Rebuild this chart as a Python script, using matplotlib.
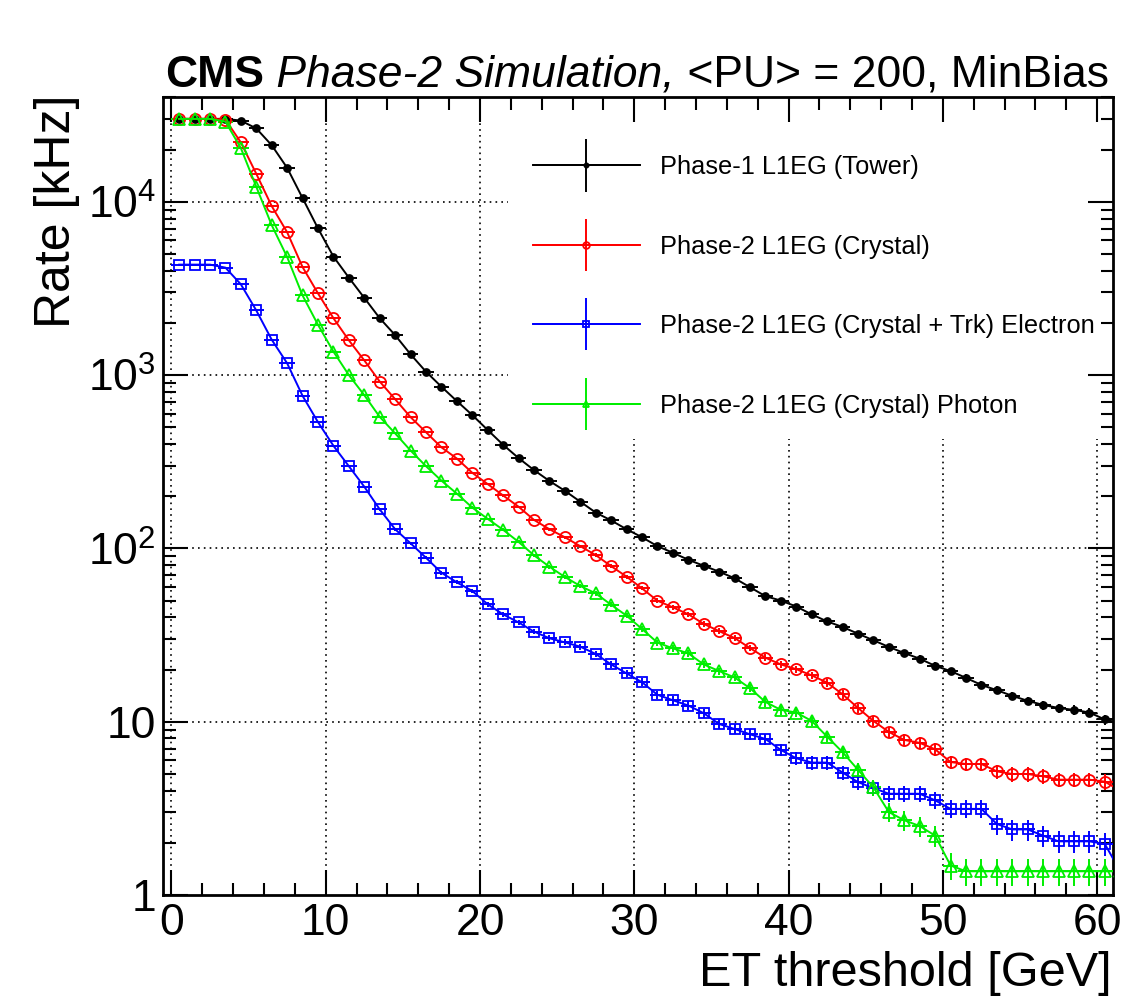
import numpy as np
import matplotlib
matplotlib.use("Agg")
import matplotlib.pyplot as plt
from matplotlib.ticker import MultipleLocator, LogLocator, NullFormatter, FuncFormatter
from matplotlib.legend_handler import HandlerErrorbar
from matplotlib.container import ErrorbarContainer
from matplotlib.patches import Rectangle

plt.rcParams["font.family"] = ["Liberation Sans", "DejaVu Sans"]
plt.rcParams["mathtext.fontset"] = "custom"
plt.rcParams["mathtext.rm"] = "Liberation Sans"
plt.rcParams["mathtext.it"] = "Liberation Sans:italic"

# bin centres in GeV (last bin sits just past the right edge of the frame)
et = np.arange(62) + 0.5

tower = [30100, 30100, 30100, 30100, 29400, 26500, 21200, 15700, 10500, 7020,
         4830, 3650, 2790, 2130, 1700, 1318, 1046, 857, 708, 588,
         482, 396, 332, 283, 245, 215, 186, 161, 145, 129,
         116, 103, 94.4, 86, 79.4, 73.4, 67.3, 59.7, 53, 50,
         46.2, 41.6, 37.9, 35.2, 32.2, 29.5, 27, 24.9, 23.1, 21,
         19.6, 17.9, 16.3, 15.2, 14.1, 13.2, 12.5, 12.0, 11.7, 11.3,
         10.3, 9.8]
crystal = [30100, 30100, 30100, 29800, 22000, 14500, 9440, 6670, 4200, 2960,
           2130, 1588, 1216, 918, 726, 572, 468, 383, 330, 273,
           235, 202, 174, 146, 129, 116, 103, 91.5, 79, 68.7,
           58.8, 49.9, 45.7, 41.7, 36.7, 33.3, 30.4, 26.6, 23.4, 21.4,
           20.1, 18.5, 16.8, 14.4, 12.0, 10.1, 8.73, 7.85, 7.55, 6.93,
           5.85, 5.7, 5.7, 5.17, 4.99, 4.99, 4.84, 4.63, 4.63, 4.63,
           4.51, 4.0]
electron = [4340, 4340, 4340, 4170, 3340, 2360, 1600, 1170, 759, 535,
            391, 298, 227, 168, 129, 107, 88.3, 72.4, 63.7, 56.8,
            47.6, 41.6, 37.4, 33.1, 30.3, 28.7, 27.1, 24.6, 21.4, 19.0,
            16.9, 14.3, 13.3, 12.4, 11.2, 9.7, 9.08, 8.46, 7.95, 6.87,
            6.15, 5.81, 5.81, 5.09, 4.48, 4.14, 3.84, 3.84, 3.84, 3.52,
            3.14, 3.14, 3.14, 2.57, 2.39, 2.39, 2.2, 2.04, 2.04, 2.04,
            1.97, 1.37]
photon = [30100, 30100, 30100, 29000, 20400, 12200, 7330, 4800, 2880, 1950,
          1366, 1000, 766, 574, 461, 367, 298, 246, 207, 172,
          148, 128, 109, 91.2, 78.4, 68.4, 60.7, 55, 47.3, 40.9,
          34.3, 28.6, 26.5, 24.8, 21.4, 19.6, 18, 15.6, 13, 11.7,
          11.3, 10.1, 8.2, 6.67, 5.28, 4.18, 3.01, 2.70, 2.50, 2.20,
          1.48, 1.37, 1.37, 1.37, 1.37, 1.37, 1.37, 1.37, 1.37, 1.37,
          1.37, 1.37]

labels = ["Phase-1 L1EG (Tower)",
          "Phase-2 L1EG (Crystal)",
          "Phase-2 L1EG (Crystal + Trk) Electron",
          "Phase-2 L1EG (Crystal) Photon"]
colors = ["black", "#ff0000", "#0000ff", "#00ee00"]
markers = ["o", "o", "s", "^"]
filled = [True, False, False, False]
msizes = [5, 8, 7, 8]

# rate carried by a single event, used for the Poisson error bars
KHZ_PER_EVENT = 0.045

fig = plt.figure(figsize=(11.46, 9.97), dpi=100)
ax = fig.add_axes([0.1422, 0.1023, 0.8286, 0.8007])

# dotted grid drawn by hand so the legend box can hide part of it
for gx in range(0, 61, 10):
    ax.axvline(gx, color="black", lw=1.2, ls=(0, (1, 2.5)), zorder=1)
for gy in [10, 100, 1000, 10000]:
    ax.axhline(gy, color="black", lw=1.2, ls=(0, (1, 2.5)), zorder=1)
ax.add_patch(Rectangle((0.363, 0.571), 0.637, 0.429, transform=ax.transAxes,
                       facecolor="white", edgecolor="none", zorder=1.5))

handles = []
for vals, lab, c, m, f, ms in zip([tower, crystal, electron, photon],
                                  labels, colors, markers, filled, msizes):
    vals = np.asarray(vals, float)
    err = np.sqrt(vals * KHZ_PER_EVENT)
    h = ax.errorbar(et, vals, xerr=0.5, yerr=err, fmt=m + "-", color=c,
                    ms=ms, mfc=c if f else "none", mec=c, mew=1.3, lw=1.4,
                    elinewidth=1.4, capsize=0, label=lab, zorder=3)
    handles.append(h)

ax.set_xlim(-0.55, 61)
ax.set_yscale("log")
ax.set_ylim(1, 4.04e4)

ax.xaxis.set_major_locator(MultipleLocator(10))
ax.xaxis.set_minor_locator(MultipleLocator(2))
ax.yaxis.set_major_locator(LogLocator(base=10, numticks=10))
ax.yaxis.set_minor_locator(LogLocator(base=10, subs=np.arange(2, 10), numticks=20))
ax.yaxis.set_minor_formatter(NullFormatter())


def rate_label(v, pos):
    if v < 1.5:
        return "1"
    if v < 15:
        return "10"
    return r"$10^{%d}$" % round(np.log10(v))


ax.yaxis.set_major_formatter(FuncFormatter(rate_label))
ax.tick_params(which="both", direction="in", top=True, right=True, width=1.5)
ax.tick_params(which="major", length=18, labelsize=32)
ax.tick_params(which="minor", length=9)
ax.tick_params(axis="x", pad=6)
ax.tick_params(axis="y", pad=5)
for sp in ax.spines.values():
    sp.set_linewidth(2)

ax.legend(handles=handles, loc="upper left", bbox_to_anchor=(0.3896, 0.9265),
          frameon=False, borderpad=0, borderaxespad=0, handlelength=4.2,
          handletextpad=0.8, labelspacing=2.18, fontsize=18.3, numpoints=1,
          markerscale=0.6,
          handler_map={ErrorbarContainer: HandlerErrorbar(xerr_size=2.1, yerr_size=1.03)})

t1 = fig.text(165 / 1146, 1 - 87 / 997, "CMS", fontsize=32, fontweight="bold",
              va="baseline")
t2 = ax.annotate(" Phase-2 Simulation,", xy=(1, 0), xycoords=t1, fontsize=32,
                 style="italic", va="bottom", annotation_clip=False)
ax.annotate(" <PU> = 200, MinBias", xy=(1, 0), xycoords=t2, fontsize=32,
            va="bottom", annotation_clip=False)

fig.text(57 / 1146, 1 - 95 / 997, "Rate [kHz]", rotation=90, fontsize=36,
         ha="center", va="top")
fig.text(1112 / 1146, 1 - 986 / 997, "ET threshold [GeV]", fontsize=35,
         ha="right", va="baseline")

fig.savefig("out.png", dpi=100)
